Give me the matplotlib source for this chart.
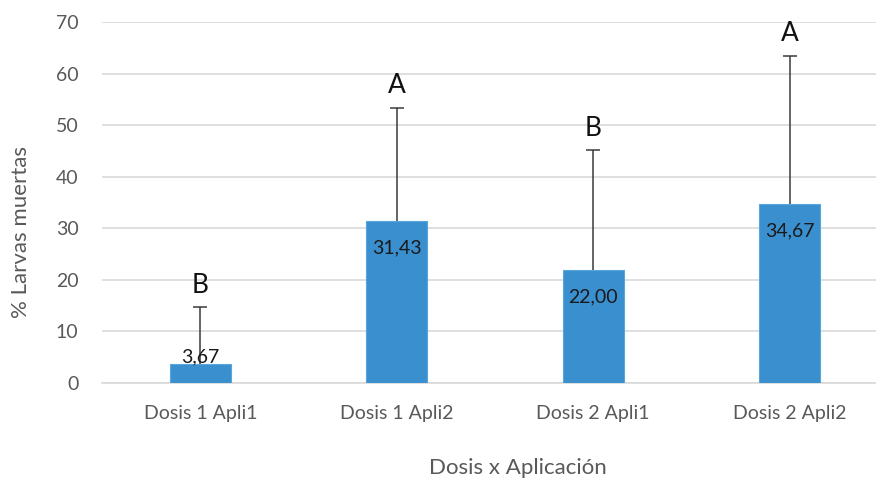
import matplotlib
matplotlib.use("Agg")
import matplotlib.pyplot as plt

# Treatment groups and results
categories = ["Dosis 1 Apli1", "Dosis 1 Apli2", "Dosis 2 Apli1", "Dosis 2 Apli2"]
means = [3.67, 31.43, 22.00, 34.67]
std_dev = [11.0, 21.9, 23.1, 28.7]
groups = ["B", "A", "B", "A"]
y_ticks = [0, 10, 20, 30, 40, 50, 60, 70]

plt.rcParams["font.family"] = ["Lato", "DejaVu Sans"]

W, H = 876, 482
fig = plt.figure(figsize=(W / 100, H / 100), dpi=100)
ax = fig.add_axes([102 / W, 99 / H, 786 / W, 361 / H])

x = list(range(len(categories)))
tops = [m + s for m, s in zip(means, std_dev)]
ax.bar(x, means, width=0.31, color="#3a8fcf", edgecolor="#5aa6dc",
       linewidth=0.8, zorder=3)
# upper error bars only: stem plus a cap at the top
ax.vlines(x, means, tops, color="#3a3a3a", linewidth=1.1, zorder=4)
ax.plot(x, tops, ls="none", marker="_", markersize=10, markeredgewidth=1.1,
        color="#3a3a3a", zorder=4)

for xi, m, t, g in zip(x, means, tops, groups):
    label = f"{m:.2f}".replace(".", ",")
    dy = 5 if m < 8 else -19.5
    ax.annotate(label, (xi, m), xytext=(0, dy), textcoords="offset points",
                ha="center", va="center", fontsize=14, color="#1a1a1a",
                zorder=5)
    ax.annotate(g, (xi, t), xytext=(0, 16), textcoords="offset points",
                ha="center", va="center", fontsize=19, color="#111111",
                zorder=5)

ax.set_xlim(-0.5, 3.5)
ax.set_ylim(0, 70)
ax.set_yticks(y_ticks)
ax.set_xticks(x)
ax.set_xticklabels(categories)
ax.yaxis.grid(True, color="#d9d9d9", linewidth=1.2, zorder=0)
ax.set_axisbelow(True)
for s in ["top", "right", "left"]:
    ax.spines[s].set_visible(False)
ax.spines["bottom"].set_color("#d9d9d9")
ax.spines["bottom"].set_linewidth(1.2)
ax.tick_params(axis="both", length=0, labelsize=14, colors="#595959")
ax.tick_params(axis="x", pad=16)
ax.tick_params(axis="y", pad=17)

fig.text(518 / W, 1 - 468 / H, "Dosis x Aplicación", ha="center",
         va="center", fontsize=16, color="#595959")
fig.text(21 / W, 1 - 232 / H, "% Larvas muertas", ha="center", va="center",
         rotation=90, fontsize=16, color="#595959")

fig.savefig("out.png", dpi=100)
